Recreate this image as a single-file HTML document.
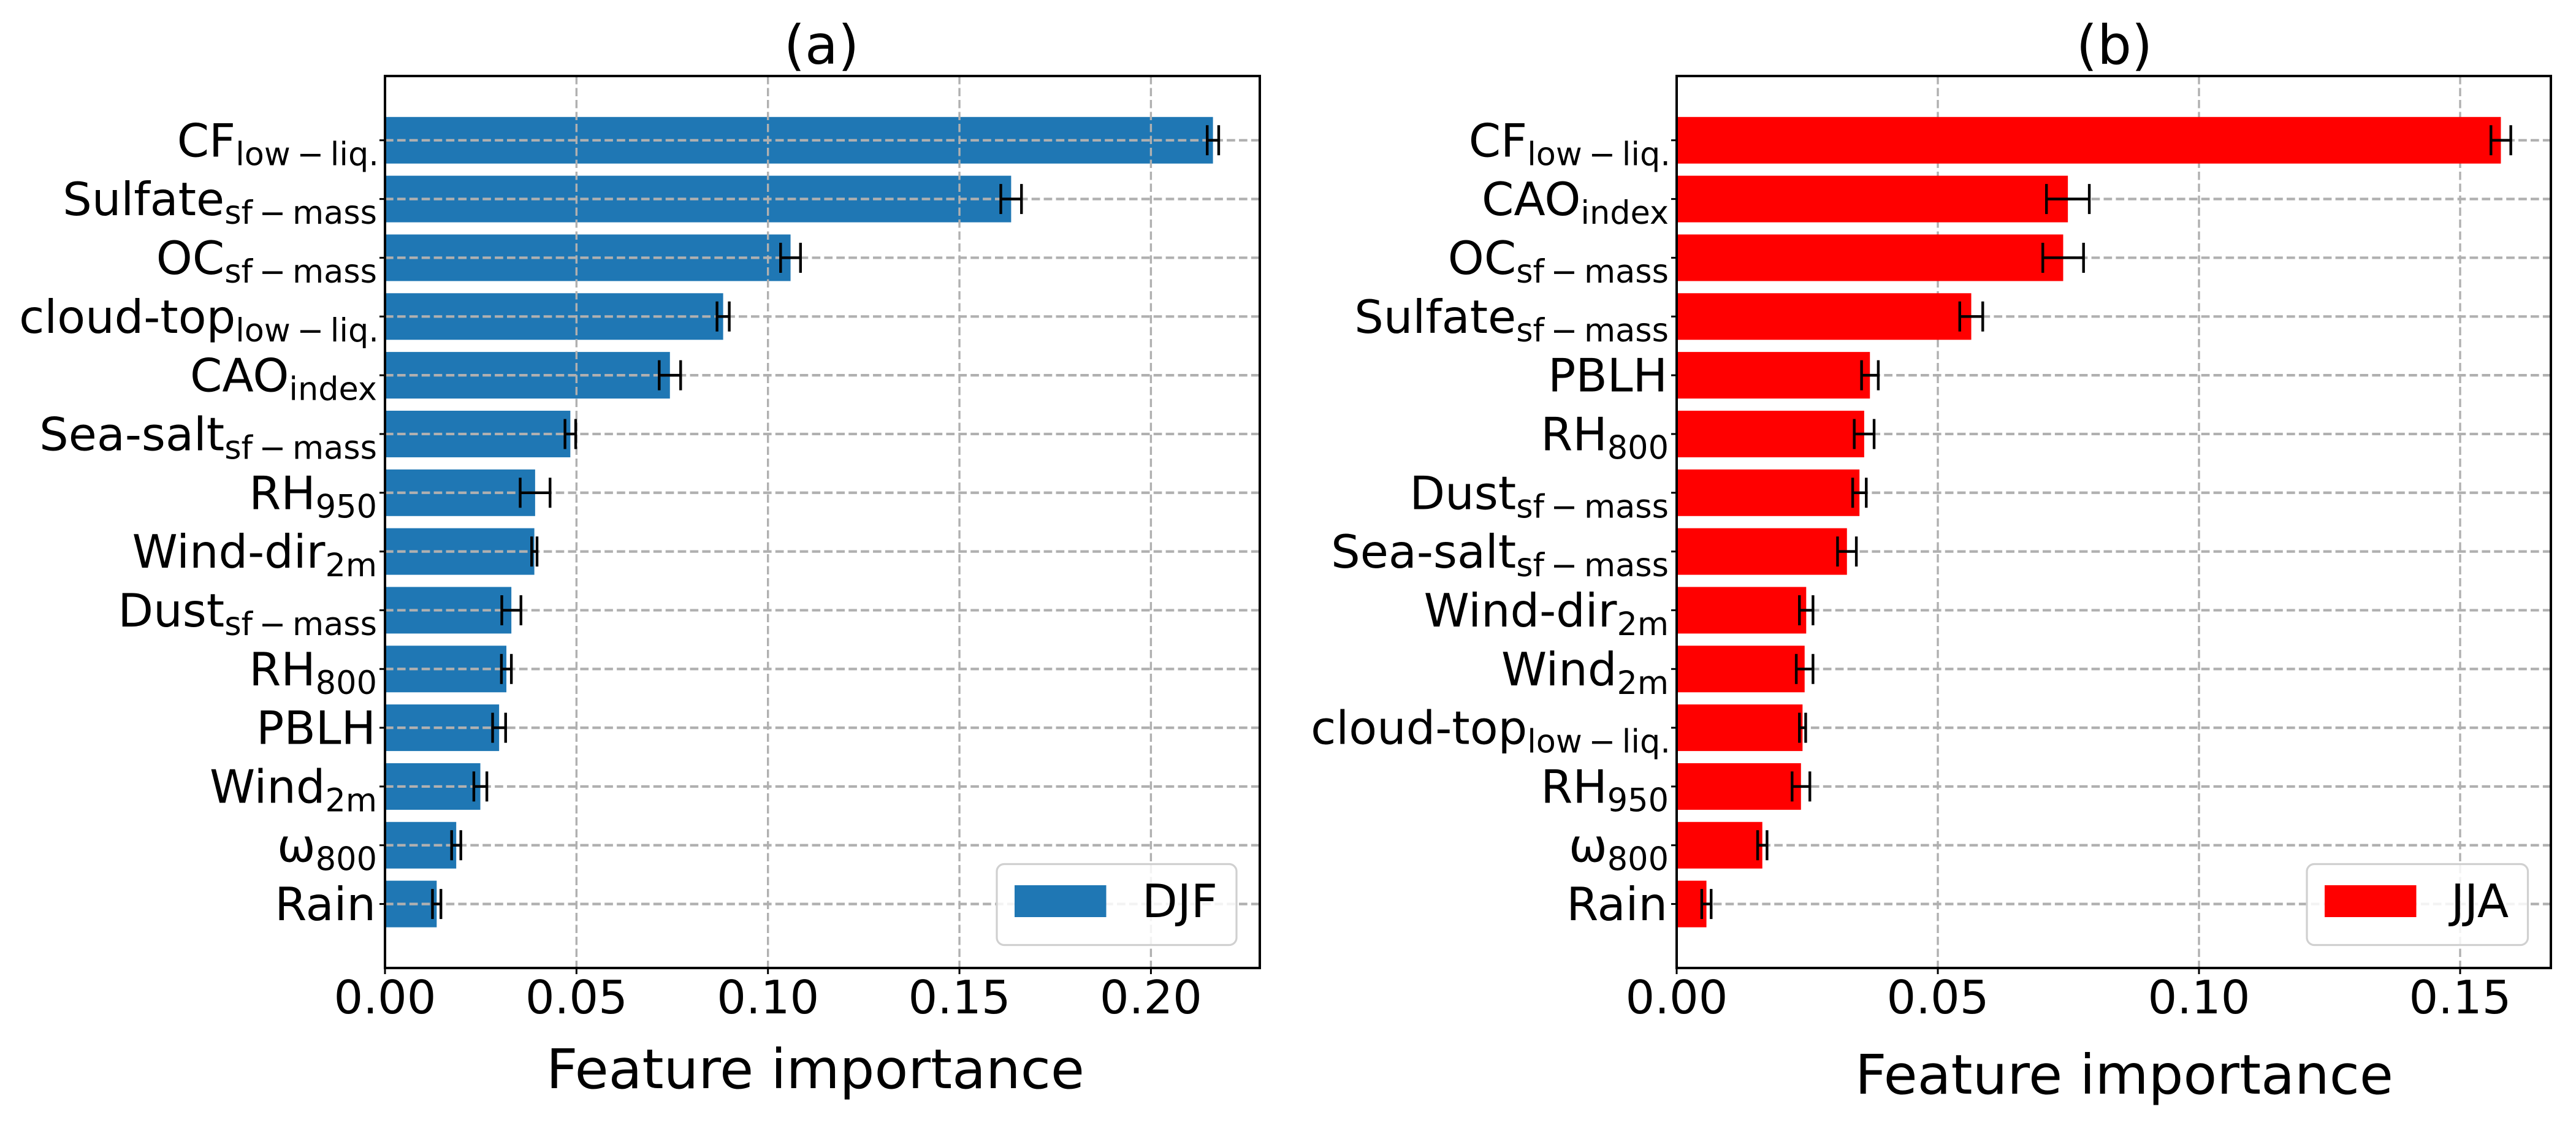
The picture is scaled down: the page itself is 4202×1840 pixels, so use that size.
<!DOCTYPE html>
<html lang="en">
<head>
<meta charset="utf-8">
<title>Feature importance DJF and JJA</title>
<style>
  html, body { margin: 0; padding: 0; background: #fff; }
  svg { display: block; }
  text { font-family: "DejaVu Sans", "Liberation Sans", sans-serif; fill: #000; }
</style>
</head>
<body>
<svg id="figure" xmlns="http://www.w3.org/2000/svg" width="4202" height="1840" viewBox="0 0 4202 1840">
  <rect x="0" y="0" width="4202" height="1840" fill="#fff"/>
  <g id="panel-a"></g>
  <g id="panel-b"></g>
  <text x="1340" y="104" font-size="88" text-anchor="middle">(a)</text>
  <text x="3449" y="104" font-size="88" text-anchor="middle">(b)</text>
  <text x="1330" y="1775" font-size="89.5" text-anchor="middle">Feature importance</text>
  <text x="3465" y="1784" font-size="89.5" text-anchor="middle">Feature importance</text>
</svg>
<script>
var MINUS_SUB_LIQ = 'low\u2009\u2212\u2009liq.';
var MINUS_SUB_MASS = 'sf\u2009\u2212\u2009mass';

var namesA = ['CF', 'Sulfate', 'OC', 'cloud-top', 'CAO', 'Sea-salt', 'RH', 'Wind-dir', 'Dust', 'RH', 'PBLH', 'Wind', '\u03C9', 'Rain'];
var subsA = [MINUS_SUB_LIQ, MINUS_SUB_MASS, MINUS_SUB_MASS, MINUS_SUB_LIQ, 'index', MINUS_SUB_MASS, '950', '2m', MINUS_SUB_MASS, '800', '', '2m', '800', ''];
var valuesA = [0.2162, 0.1635, 0.1059, 0.0883, 0.0744, 0.0484, 0.0392, 0.0390, 0.0330, 0.0317, 0.0298, 0.0249, 0.0186, 0.0135];
var errorsA = [0.0015, 0.0027, 0.0026, 0.0016, 0.0028, 0.0014, 0.0039, 0.0007, 0.0025, 0.0013, 0.0017, 0.0017, 0.0012, 0.0011];
var ticksA = [0, 0.05, 0.10, 0.15, 0.20];
var tickLabelsA = ['0.00', '0.05', '0.10', '0.15', '0.20'];

var namesB = ['CF', 'CAO', 'OC', 'Sulfate', 'PBLH', 'RH', 'Dust', 'Sea-salt', 'Wind-dir', 'Wind', 'cloud-top', 'RH', '\u03C9', 'Rain'];
var subsB = [MINUS_SUB_LIQ, 'index', MINUS_SUB_MASS, MINUS_SUB_MASS, '', '800', MINUS_SUB_MASS, MINUS_SUB_MASS, '2m', '2m', MINUS_SUB_LIQ, '950', '800', ''];
var valuesB = [0.1578, 0.0749, 0.0740, 0.0564, 0.0370, 0.0359, 0.0350, 0.0326, 0.0248, 0.0245, 0.0241, 0.0238, 0.0164, 0.0057];
var errorsB = [0.0019, 0.0041, 0.0039, 0.0022, 0.0016, 0.0019, 0.0013, 0.0018, 0.0013, 0.0016, 0.0006, 0.0017, 0.0009, 0.0009];
var ticksB = [0, 0.05, 0.10, 0.15];
var tickLabelsB = ['0.00', '0.05', '0.10', '0.15'];

var NS = 'http://www.w3.org/2000/svg';

function make(parent, tag, attrs) {
  var el = document.createElementNS(NS, tag);
  for (var k in attrs) { el.setAttribute(k, attrs[k]); }
  parent.appendChild(el);
  return el;
}

function labelGap(sub) {
  if (!sub) { return 15; }
  if (sub === MINUS_SUB_LIQ) { return 10; }
  return 13;
}

function drawPanel(cfg) {
  var g = document.getElementById(cfg.id);
  var top = 124, bottom = 1579, left = cfg.left, right = cfg.right;
  var xScale = function (v) { return left + v * cfg.pxPerUnit; };
  var yScale = function (i) { return 228.8 + i * 95.83; };
  var barHalf = 38;
  var el, i;

  function drawGrid() {
    var j, ln;
    for (j = 1; j < cfg.ticks.length; j++) {
      ln = make(g, 'line', { x1: xScale(cfg.ticks[j]), x2: xScale(cfg.ticks[j]), y1: top, y2: bottom, stroke: '#b0b0b0', 'stroke-width': 3.4, 'stroke-dasharray': '13.5 6' });
      
      
    }
    for (j = 0; j < cfg.names.length; j++) {
      ln = make(g, 'line', { x1: left, x2: right, y1: yScale(j), y2: yScale(j), stroke: '#b0b0b0', 'stroke-width': 4.2, 'stroke-dasharray': '13.7 6.2' });
      
      
    }
  }

  function drawBars() {
    var j, r;
    for (j = 0; j < cfg.values.length; j++) {
      r = make(g, 'rect', { x: left, y: yScale(j) - barHalf, width: xScale(cfg.values[j]) - left, height: barHalf * 2, fill: cfg.color });
      
      
    }
  }

  if (cfg.gridOnTop) { drawBars(); drawGrid(); } else { drawGrid(); drawBars(); }

  for (i = 0; i < cfg.values.length; i++) {
    var lo = xScale(cfg.values[i] - cfg.errors[i]);
    var hi = xScale(cfg.values[i] + cfg.errors[i]);
    var y = yScale(i);
    el = make(g, 'path', {
      d: 'M' + lo + ' ' + y + 'H' + hi + 'M' + lo + ' ' + (y - 24.5) + 'V' + (y + 24.5) + 'M' + hi + ' ' + (y - 24.5) + 'V' + (y + 24.5),
      stroke: '#000', 'stroke-width': 4.4, fill: 'none'
    });
    
    
  }

  el = make(g, 'rect', { x: cfg.legendX, y: 1409.5, width: cfg.legendW, height: 132, rx: 12, ry: 12, fill: '#fff', 'fill-opacity': 0.85, stroke: '#d0d0d0', 'stroke-width': 3.2 });
  
  
  el = make(g, 'rect', { x: cfg.legendX + 29, y: 1444, width: 149.5, height: 52, fill: cfg.color });
  
  
  el = make(g, 'text', { x: cfg.legendTextX, y: 1496, 'font-size': 75 });
  
  
  el.textContent = cfg.season;

  el = make(g, 'rect', { x: left, y: top, width: right - left, height: bottom - top, fill: 'none', stroke: '#000', 'stroke-width': 4 });
  
  

  for (i = 0; i < cfg.ticks.length; i++) {
    el = make(g, 'line', { x1: xScale(cfg.ticks[i]), x2: xScale(cfg.ticks[i]), y1: bottom, y2: bottom + 10, stroke: '#000', 'stroke-width': 3 });
    
    
    el = make(g, 'text', { x: xScale(cfg.ticks[i]), y: 1653, 'font-size': 75, 'text-anchor': 'middle' });
    
    
    el.textContent = cfg.tickLabels[i];
  }

  for (i = 0; i < cfg.names.length; i++) {
    el = make(g, 'line', { x1: left - 9, x2: left, y1: yScale(i), y2: yScale(i), stroke: '#000', 'stroke-width': 3 });
    
    
    el = make(g, 'text', { x: left - labelGap(cfg.subs[i]), y: yScale(i) + 26.5, 'font-size': 75, 'text-anchor': 'end' });
    
    
    var main = make(el, 'tspan', {});
    main.textContent = cfg.names[i];
    if (cfg.subs[i]) {
      var sub = make(el, 'tspan', { 'font-size': 52.5, dy: 14 });
      sub.textContent = cfg.subs[i];
    }
  }
}

drawPanel({
  id: 'panel-a', left: 628, right: 2055, pxPerUnit: 6247,
  names: namesA, subs: subsA, values: valuesA, errors: errorsA, ticks: ticksA, tickLabels: tickLabelsA,
  color: '#1f77b4', gridOnTop: true, season: 'DJF', legendX: 1626, legendW: 391, legendTextX: 1863
});
drawPanel({
  id: 'panel-b', left: 2735, right: 4161, pxPerUnit: 8520,
  names: namesB, subs: subsB, values: valuesB, errors: errorsB, ticks: ticksB, tickLabels: tickLabelsB,
  color: '#ff0000', gridOnTop: false, season: 'JJA', legendX: 3763, legendW: 360.5, legendTextX: 3998
});
</script>
</body>
</html>
